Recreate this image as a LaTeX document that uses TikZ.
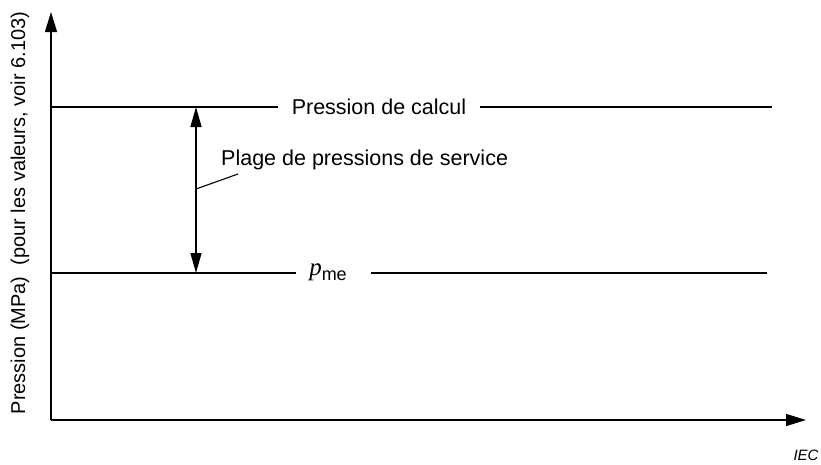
\documentclass[tikz,border=0pt]{standalone}
\usepackage{fontspec}
\setmainfont{Liberation Sans}
\newfontfamily\serifit{Liberation Serif}
\usetikzlibrary{arrows.meta}
\begin{document}
\begin{tikzpicture}[x=1pt,y=-1pt,
  line/.style={line width=1.4pt},
  tip/.style={-{Triangle[length=20pt,width=12pt]}},
  lbl/.style={font=\fontsize{21.5}{26}\selectfont, inner sep=0pt}]
\useasboundingbox (0,0) rectangle (821,464);
% axes
\coordinate (O) at (51,420);
\coordinate (Ytop) at (51,12);
\coordinate (Xend) at (806,420);
\draw[line,tip] (O) -- (Ytop);
\draw[line,tip] (O) -- (Xend);
% upper line: Pression de calcul
\node[lbl] (calc) at (379,107) {Pression de calcul};
\coordinate (c0) at (51,107);
\coordinate (c1) at (772,107);
\draw[line] (c0) -- ([xshift=-14pt]calc.west |- c0);
\draw[line] ([xshift=14pt]calc.east |- c1) -- (c1);
% lower line: p_me
\node[lbl] (pme) at (328,272) {{\serifit\itshape\fontsize{25}{30}\selectfont p}\raisebox{-5pt}{\fontsize{18}{22}\selectfont me}};
\coordinate (m0) at (51,273);
\coordinate (m1) at (767,273);
\coordinate (ga) at (296,273);
\coordinate (gb) at (371,273);
\draw[line] (m0) -- (ga);
\draw[line] (gb) -- (m1);
% double arrow
\coordinate (a0) at (196,107);
\coordinate (a1) at (196,273);
\draw[line,{Triangle[length=20pt,width=11pt]}-{Triangle[length=20pt,width=11pt]}] (a0) -- (a1);
% label
\node[lbl, anchor=west] (plage) at (221,160) {Plage de pressions de service};
\coordinate (l0) at (196,189);
\coordinate (l1) at (238,174);
\draw[line, line width=1.1pt] (l0) -- (l1);
% y label
\node[font=\fontsize{20}{24}\selectfont, inner sep=0pt, rotate=90] (ylab) at (20,213) {Pression (MPa)\ \ (pour les valeurs, voir 6.103)};
% IEC
\node[font=\fontsize{15}{18}\selectfont\itshape, inner sep=0pt] (iec) at (806,455) {IEC};
\end{tikzpicture}
\end{document}
